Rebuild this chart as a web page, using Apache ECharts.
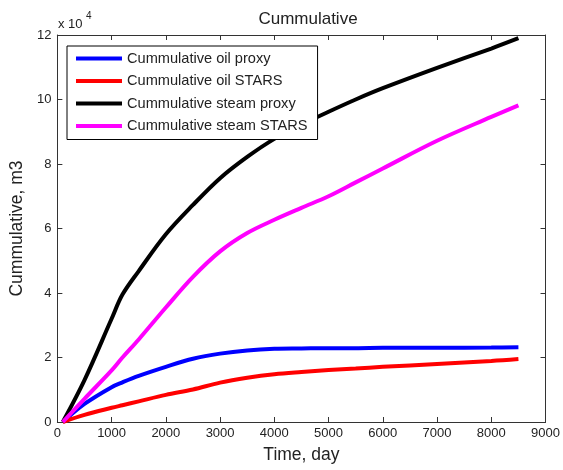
<!DOCTYPE html>
<html>
<head>
<meta charset="utf-8">
<script src="https://cdn.jsdelivr.net/npm/echarts@6/dist/echarts.min.js"></script>
<style>
  html, body { margin: 0; padding: 0; background: #fff; }
  #chart { width: 563px; height: 470px; }
</style>
</head>
<body>
<div id="chart"></div>
<script>
// time in days, values in units of 1e4 m3 (axis shows "x 10^4")
const days = [100, 500, 1000, 1200, 1500, 2000, 2500, 3000, 3500, 4000, 4500, 5000, 5500, 6000, 7000, 8000, 8500];
const oilProxy   = [0, 0.56, 1.08, 1.23, 1.43, 1.71, 1.96, 2.12, 2.22, 2.27, 2.28, 2.29, 2.29, 2.30, 2.30, 2.31, 2.32];
const oilStars   = [0, 0.22, 0.44, 0.52, 0.64, 0.84, 1.01, 1.22, 1.37, 1.48, 1.55, 1.61, 1.66, 1.71, 1.80, 1.89, 1.95];
const steamProxy = [0, 1.30, 3.20, 3.95, 4.68, 5.82, 6.73, 7.56, 8.22, 8.78, 9.22, 9.62, 10.0, 10.35, 10.98, 11.58, 11.9];
const steamStars = [0, 0.72, 1.60, 2.00, 2.56, 3.55, 4.50, 5.29, 5.86, 6.27, 6.64, 7.00, 7.43, 7.86, 8.72, 9.46, 9.82];

const seriesNames = [
  "Cummulative oil proxy",
  "Cummulative oil STARS",
  "Cummulative steam proxy",
  "Cummulative steam STARS",
];
const seriesColors = ["#0000ff", "#ff0000", "#000000", "#ff00ff"];
const seriesValues = [oilProxy, oilStars, steamProxy, steamStars];

const font = "'Liberation Sans', Arial, sans-serif";
const axisColor = "#333";
const textColor = "#222";

const chart = echarts.init(document.getElementById("chart"));

// fresh objects per axis so nothing is shared between them
function boxAxis(extra, base) {
  return Object.assign({
    type: "value",
    min: base.min,
    max: base.max,
    interval: base.interval,
    axisLine: { show: true, onZero: false, lineStyle: { color: axisColor, width: 1 } },
    axisTick: { show: true, inside: true, length: 5, lineStyle: { color: axisColor, width: 1 } },
    axisLabel: { show: false },
    splitLine: { show: false },
  }, extra);
}
const xRange = { min: 0, max: 9000, interval: 1000 };
const yRange = { min: 0, max: 12, interval: 2 };

chart.setOption({
  animation: false,
  textStyle: { fontFamily: font },
  title: {
    text: "Cummulative",
    left: 303,
    textAlign: "center",
    top: 6,
    textStyle: { fontFamily: font, fontSize: 17, fontWeight: "normal", color: textColor },
  },
  grid: { left: 57, right: 13, top: 35, bottom: 48 },
  legend: {
    orient: "vertical",
    left: 67,
    top: 46,
    padding: [5, 10, 6, 9],
    itemGap: 7.5,
    itemWidth: 46,
    itemHeight: 4,
    icon: "rect",
    borderColor: "#000",
    borderWidth: 1,
    backgroundColor: "#fff",
    borderRadius: 0,
    textStyle: { fontFamily: font, fontSize: 14.6, lineHeight: 14, color: textColor },
    data: seriesNames,
  },
  xAxis: [
    boxAxis({
      position: "bottom",
      name: "Time, day",
      nameLocation: "middle",
      nameGap: 24,
      nameTextStyle: { fontFamily: font, fontSize: 17.5, color: textColor },
      axisLabel: { show: true, margin: 5, fontFamily: font, fontSize: 13, color: textColor, formatter: (v) => String(v) },
    }, xRange),
    boxAxis({ position: "top" }, xRange),
  ],
  yAxis: [
    boxAxis({
      position: "left",
      name: "Cummulative, m3",
      nameLocation: "middle",
      nameGap: 21.5,
      nameTextStyle: { fontFamily: font, fontSize: 17.5, color: textColor },
      axisLabel: { show: true, margin: 6, fontFamily: font, fontSize: 13, color: textColor, formatter: (v) => String(v) },
    }, yRange),
    boxAxis({ position: "right" }, yRange),
  ],
  graphic: [
    {
      type: "text",
      left: 58,
      top: 18,
      style: { text: "x 10", font: "13px " + font, fill: textColor },
    },
    {
      type: "text",
      left: 86,
      top: 11,
      style: { text: "4", font: "10px " + font, fill: textColor },
    },
  ],
  series: seriesNames.map((name, i) => ({
    name,
    type: "line",
    xAxisIndex: 0,
    yAxisIndex: 0,
    showSymbol: false,
    smooth: 0.35,
    color: seriesColors[i],
    lineStyle: { width: 4, color: seriesColors[i] },
    data: days.map((d, j) => [d, seriesValues[i][j]]),
  })),
});
</script>
</body>
</html>
